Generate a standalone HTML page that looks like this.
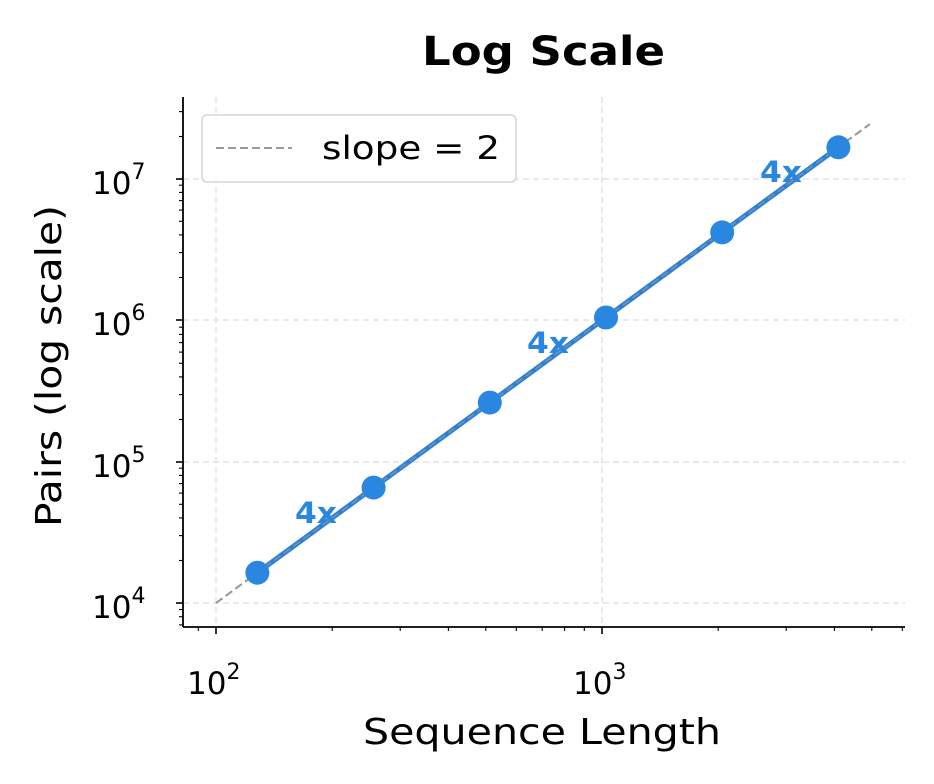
<!DOCTYPE html>
<html><head><meta charset="utf-8"><style>
html,body{margin:0;padding:0;background:#fff;}
svg{display:block;font-family:"DejaVu Sans","Liberation Sans",sans-serif;}
</style></head><body>
<svg width="934" height="784" viewBox="0 0 934 784" xmlns="http://www.w3.org/2000/svg">
<rect width="934" height="784" fill="#fff"/>
<text x="422" y="65" font-size="40" font-weight="bold" fill="#000" textLength="243" lengthAdjust="spacingAndGlyphs">Log Scale</text>
<g stroke="#e3e3e3" stroke-width="1.5" stroke-dasharray="6,4">
<line x1="216" y1="97" x2="216" y2="627"/>
<line x1="602" y1="97" x2="602" y2="627"/>
<line x1="183" y1="603" x2="905" y2="603"/>
<line x1="183" y1="462" x2="905" y2="462"/>
<line x1="183" y1="320" x2="905" y2="320"/>
<line x1="183" y1="179" x2="905" y2="179"/>
</g>
<line x1="216" y1="603" x2="870" y2="124" stroke="#999" stroke-width="2" stroke-dasharray="8,4"/>
<polyline points="257.4,572.7 373.6,487.6 489.8,402.6 606,317.5 722.2,232.4 838.4,147.3" fill="none" stroke="#2a80d8" stroke-width="5"/>
<line x1="216" y1="603" x2="870" y2="124" stroke="#999" stroke-width="2" stroke-dasharray="8,4" opacity="0.6"/>
<g fill="#2a87e0">
<circle cx="257.4" cy="572.7" r="12"/><circle cx="373.6" cy="487.6" r="12"/><circle cx="489.8" cy="402.6" r="12"/>
<circle cx="606" cy="317.5" r="12"/><circle cx="722.2" cy="232.4" r="12"/><circle cx="838.4" cy="147.3" r="12"/>
</g>
<g fill="#2a87e0" font-size="29" font-weight="bold">
<text x="295" y="523" textLength="42" lengthAdjust="spacingAndGlyphs">4x</text>
<text x="527" y="353" textLength="42" lengthAdjust="spacingAndGlyphs">4x</text>
<text x="760" y="182" textLength="42" lengthAdjust="spacingAndGlyphs">4x</text>
</g>
<g stroke="#000" stroke-width="1.8">
<line x1="183" y1="97" x2="183" y2="627"/>
<line x1="183" y1="627" x2="905" y2="627"/>
</g>
<g stroke="#000" stroke-width="1.6">
<line x1="216" y1="627" x2="216" y2="634"/><line x1="602" y1="627" x2="602" y2="634"/>
</g>
<g stroke="#000" stroke-width="1.1">
<line x1="198.3" y1="627" x2="198.3" y2="631"/>
<line x1="332.2" y1="627" x2="332.2" y2="631"/><line x1="400.2" y1="627" x2="400.2" y2="631"/><line x1="448.4" y1="627" x2="448.4" y2="631"/><line x1="485.8" y1="627" x2="485.8" y2="631"/><line x1="516.3" y1="627" x2="516.3" y2="631"/><line x1="542.2" y1="627" x2="542.2" y2="631"/><line x1="564.6" y1="627" x2="564.6" y2="631"/><line x1="584.3" y1="627" x2="584.3" y2="631"/>
<line x1="718.2" y1="627" x2="718.2" y2="631"/><line x1="786.2" y1="627" x2="786.2" y2="631"/><line x1="834.4" y1="627" x2="834.4" y2="631"/><line x1="871.8" y1="627" x2="871.8" y2="631"/><line x1="902.3" y1="627" x2="902.3" y2="631"/>
</g>
<g stroke="#000" stroke-width="1.6">
<line x1="176" y1="603" x2="183" y2="603"/><line x1="176" y1="462" x2="183" y2="462"/><line x1="176" y1="320" x2="183" y2="320"/><line x1="176" y1="179" x2="183" y2="179"/>
</g>
<g stroke="#000" stroke-width="1.1">
<line x1="179" y1="609.5" x2="183" y2="609.5"/><line x1="179" y1="616.7" x2="183" y2="616.7"/><line x1="179" y1="624.9" x2="183" y2="624.9"/>
<line x1="179" y1="560.5" x2="183" y2="560.5"/><line x1="179" y1="535.6" x2="183" y2="535.6"/><line x1="179" y1="517.9" x2="183" y2="517.9"/><line x1="179" y1="504.3" x2="183" y2="504.3"/><line x1="179" y1="493.1" x2="183" y2="493.1"/><line x1="179" y1="483.6" x2="183" y2="483.6"/><line x1="179" y1="475.4" x2="183" y2="475.4"/><line x1="179" y1="468.2" x2="183" y2="468.2"/>
<line x1="179" y1="419.5" x2="183" y2="419.5"/><line x1="179" y1="394.6" x2="183" y2="394.6"/><line x1="179" y1="376.9" x2="183" y2="376.9"/><line x1="179" y1="363.3" x2="183" y2="363.3"/><line x1="179" y1="352.1" x2="183" y2="352.1"/><line x1="179" y1="342.6" x2="183" y2="342.6"/><line x1="179" y1="334.4" x2="183" y2="334.4"/><line x1="179" y1="327.2" x2="183" y2="327.2"/>
<line x1="179" y1="277.5" x2="183" y2="277.5"/><line x1="179" y1="252.6" x2="183" y2="252.6"/><line x1="179" y1="234.9" x2="183" y2="234.9"/><line x1="179" y1="221.3" x2="183" y2="221.3"/><line x1="179" y1="210.1" x2="183" y2="210.1"/><line x1="179" y1="200.6" x2="183" y2="200.6"/><line x1="179" y1="192.4" x2="183" y2="192.4"/><line x1="179" y1="185.2" x2="183" y2="185.2"/>
<line x1="179" y1="136.5" x2="183" y2="136.5"/><line x1="179" y1="111.6" x2="183" y2="111.6"/>
</g>
<g font-size="31" fill="#000">
<text x="187" y="694">10<tspan font-size="22" dy="-15">2</tspan></text>
<text x="573" y="694">10<tspan font-size="22" dy="-15">3</tspan></text>
<text x="92" y="618">10<tspan font-size="22" dy="-15">4</tspan></text>
<text x="92" y="477">10<tspan font-size="22" dy="-15">5</tspan></text>
<text x="92" y="335">10<tspan font-size="22" dy="-15">6</tspan></text>
<text x="92" y="194">10<tspan font-size="22" dy="-15">7</tspan></text>
</g>
<text x="363" y="744" font-size="36" fill="#000" textLength="358" lengthAdjust="spacingAndGlyphs">Sequence Length</text>
<text transform="translate(61,527) rotate(-90)" font-size="36" fill="#000" textLength="322" lengthAdjust="spacingAndGlyphs">Pairs (log scale)</text>
<rect x="202" y="115" width="314" height="67" rx="5" fill="#fff" fill-opacity="0.85" stroke="#d5d5d5" stroke-width="1.5"/>
<line x1="216" y1="148" x2="292" y2="148" stroke="#999" stroke-width="2" stroke-dasharray="8,4"/>
<text x="322" y="159" font-size="32" fill="#000" textLength="178" lengthAdjust="spacingAndGlyphs">slope = 2</text>
</svg>
</body></html>
